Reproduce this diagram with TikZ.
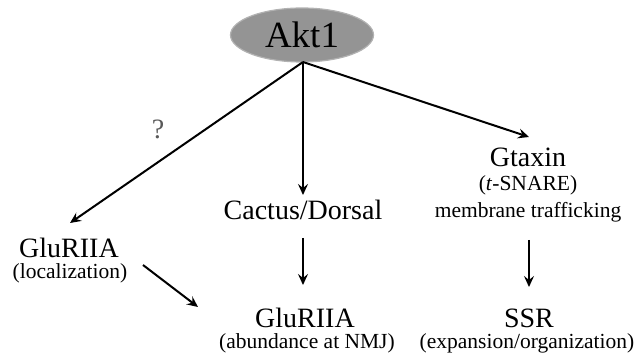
\documentclass[tikz,border=0pt]{standalone}
\usepackage{fontspec}
\setmainfont{Liberation Serif}
\usetikzlibrary{arrows.meta,shapes.geometric}
\begin{document}
\begin{tikzpicture}[x=1pt,y=1pt,
  big/.style={font=\fontsize{28}{30}\selectfont, inner sep=0pt},
  small/.style={font=\fontsize{21.5}{23}\selectfont, inner sep=0pt},
  arr/.style={line width=2pt, -{Stealth[length=11pt,width=10pt,inset=4pt]}}]
\useasboundingbox (0,0) rectangle (641,354);
\node[ellipse, fill=black!42, draw=black!30, line width=1.2pt, minimum width=143pt, minimum height=54pt, inner sep=0pt,
  font=\fontsize{37}{40}\selectfont] (akt) at (302,319) {Akt1};
\coordinate (src) at (303,292);
% labels
\node[big] (cactus) at (303,144) {Cactus/Dorsal};
\node[big] (gluL) at (69,106) {GluRIIA};
\node[small] (loc) at (70,81) {(localization)};
\node[big] (gluB) at (305,36) {GluRIIA};
\node[small] (abund) at (307,11) {(abundance at NMJ)};
\node[big] (gtaxin) at (528,197) {Gtaxin};
\node[small] (tsnare) at (528,169) {(\textit{t}-SNARE)};
\node[small] (memb) at (528,142) {membrane trafficking};
\node[big] (ssr) at (529,36) {SSR};
\node[small] (exp) at (527,11) {(expansion/organization)};
\node[font=\fontsize{28}{30}\selectfont, text=black!65, inner sep=0pt] (q) at (158,225) {?};
% arrow ends
\coordinate (tipL) at (70,131);
\coordinate (tipM) at (303,159);
\coordinate (tipR) at (529,217);
\coordinate (cS) at (303,116);
\coordinate (cE) at (303,69);
\coordinate (gS) at (529,114);
\coordinate (gE) at (529,67);
\coordinate (dS) at (143,89);
\coordinate (dE) at (198,47);
\draw[arr] (src) -- (tipL);
\draw[arr] (src) -- (tipM);
\draw[arr] (src) -- (tipR);
\draw[arr] (cS) -- (cE);
\draw[arr] (gS) -- (gE);
\draw[arr] (dS) -- (dE);
\end{tikzpicture}
\end{document}
